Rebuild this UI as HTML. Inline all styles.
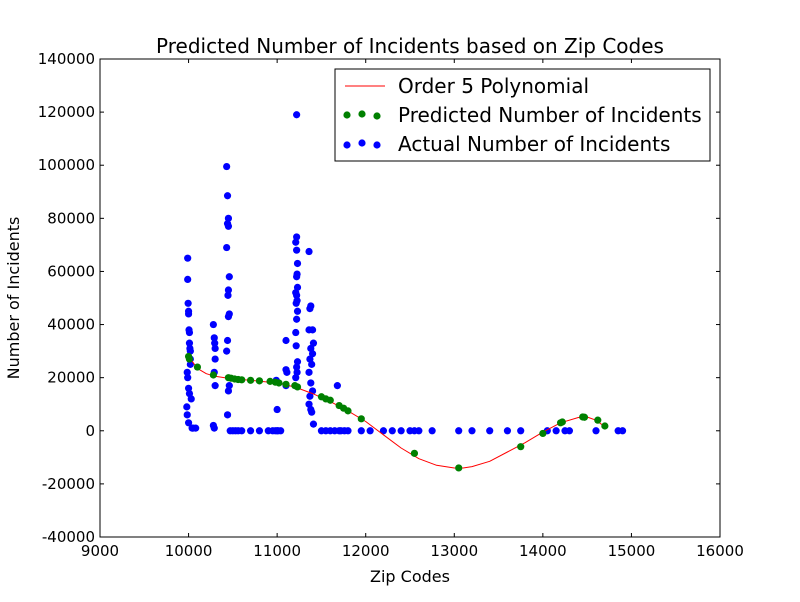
<!DOCTYPE html>
<html><head><meta charset="utf-8"><style>
body{margin:0;background:#fff;}
svg{font-family:"DejaVu Sans","Liberation Sans",sans-serif;}
</style></head><body>
<svg id="chart" width="800" height="597">
<rect x="0" y="0" width="800" height="597" fill="#fff"/>
<g id="plot"></g>
</svg>
<script>
const xTicks=[9000,10000,11000,12000,13000,14000,15000,16000];
const yTicks=[-40000,-20000,0,20000,40000,60000,80000,100000,120000,140000];
const curveX=[10000,10100,10200,10300,10500,10700,11000,11200,11400,11600,11800,12000,12200,12400,12600,12800,13000,13100,13200,13400,13600,13800,14000,14200,14400,14500,14600,14700];
const curveY=[28000,23500,21500,20500,19500,19000,18000,16500,14000,11000,7500,3500,-1500,-6500,-10500,-13000,-14000,-14000,-13500,-11500,-8000,-4500,-500,3000,5000,5200,4000,1500];
const predX=[10000,10010,10100,10280,10450,10480,10520,10560,10600,10700,10800,10920,10980,11020,11100,11200,11230,11500,11550,11600,11700,11750,11800,11950,12550,13050,13750,14000,14200,14220,14450,14470,14620,14700];
const predY=[28000,27000,24000,21000,20000,19800,19500,19300,19200,19000,18800,18600,18300,18000,17500,17000,16500,12800,12000,11500,9500,8500,7500,4500,-8500,-14000,-6000,-1000,3000,3300,5200,5100,4000,1800];
const actX=[9990,9990,9995,10000,10000,10005,10010,10010,10015,10020,10020,10020,9985,9990,10000,10010,10030,10040,9980,9985,10000,10050,10080,
10280,10290,10295,10300,10300,10290,10300,10280,10290,
10430,10440,10450,10440,10450,10430,10460,10450,10445,10460,10450,10440,10430,10460,10450,10440,10470,
10500,10530,10560,10600,10700,10800,10900,10950,10980,11000,11010,11040,11000,10990,
11100,11100,11110,11100,
11220,11220,11210,11220,11230,11225,11220,11230,11210,11220,11225,11215,11230,11220,11210,11215,11230,11220,11225,11210,
11360,11380,11370,11400,11360,11410,11380,11400,11370,11390,11360,11380,11400,11370,11360,11380,11390,11410,
11500,11550,11600,11650,11680,11700,11720,11760,11800,11950,12050,12200,12300,12400,12500,12550,12600,12750,13050,13200,13400,13600,13750,14050,14150,14250,14300,14600,14850,14900];
const actY=[65000,57000,48000,45000,44000,38000,37000,33000,31000,30000,27000,25000,22000,20000,16000,14000,12000,1000,9000,6000,3000,1000,1000,
40000,35000,33000,31000,27000,22000,17000,2000,1000,
99500,88500,80000,78000,77000,69000,58000,53000,51000,44000,43000,34000,30000,17000,15000,6000,0,
0,0,0,0,0,0,0,0,0,0,0,0,8000,19000,
34000,23000,22000,17000,
119000,73000,71000,68000,63000,59000,58000,54000,52000,51000,49000,48000,45000,42000,37000,32000,26000,24000,22000,20000,
67500,47000,46000,38000,38000,33000,31000,29000,27000,25000,22000,18000,15000,13000,10000,8000,7000,2500,
0,0,0,0,17000,0,0,0,0,0,0,0,0,0,0,0,0,0,0,0,0,0,0,0,0,0,0,0,0,0];
const L=100,R=720,T=59,B=537;
const xs=v=>L+(v-9000)/7000*(R-L);
const ys=v=>B-(v+40000)/180000*(B-T);
const NS='http://www.w3.org/2000/svg';
const g=document.getElementById('plot');
function mk(t,a,p){const e=document.createElementNS(NS,t);for(const k in a)e.setAttribute(k,a[k]);(p||g).appendChild(e);return e;}
const fr=mk('rect',{x:L,y:T,width:R-L,height:B-T,fill:'none',stroke:'#000','stroke-width':1});


xTicks.forEach(v=>{const x=xs(v);
mk('line',{x1:x,x2:x,y1:B,y2:B-4,stroke:'#000'});mk('line',{x1:x,x2:x,y1:T,y2:T+4,stroke:'#000'});
const t=mk('text',{x:x,y:B+19,'text-anchor':'middle','font-size':15});t.textContent=v;

});
yTicks.forEach(v=>{const y=ys(v);
mk('line',{x1:L,x2:L+4,y1:y,y2:y,stroke:'#000'});mk('line',{x1:R,x2:R-4,y1:y,y2:y,stroke:'#000'});
const t=mk('text',{x:L-5,y:y+5,'text-anchor':'end','font-size':15});t.textContent=v;

});
actX.forEach((v,i)=>{const c=mk('circle',{cx:xs(v),cy:ys(actY[i]),r:3.6,fill:'#0000ff'});

});
let d='';curveX.forEach((v,i)=>{d+=(i?'L':'M')+xs(v).toFixed(1)+','+ys(curveY[i]).toFixed(1);});
const pl=mk('path',{d:d,fill:'none',stroke:'#ff0000','stroke-width':1,'stroke-linejoin':'round'});


predX.forEach((v,i)=>{const c=mk('circle',{cx:xs(v),cy:ys(predY[i]),r:3.6,fill:'#008000'});

});
</script>
<svg width="800" height="597" style="position:absolute;left:0;top:0;font-family:'DejaVu Sans','Liberation Sans',sans-serif">
<text x="410" y="53" text-anchor="middle" font-size="20">Predicted Number of Incidents based on Zip Codes</text>
<text x="410" y="582" text-anchor="middle" font-size="16">Zip Codes</text>
<text x="0" y="0" transform="translate(19,298) rotate(-90)" text-anchor="middle" font-size="16">Number of Incidents</text>
<g>
<rect x="335" y="69" width="375" height="92" fill="#fff" stroke="#000"/>
<line x1="345" x2="385" y1="86" y2="86" stroke="#ff0000"/>
<text x="398" y="93" font-size="20">Order 5 Polynomial</text>
<circle cx="347" cy="115" r="3.6" fill="#008000"/><circle cx="362" cy="114" r="3.6" fill="#008000"/><circle cx="377" cy="116" r="3.6" fill="#008000"/>
<text x="398" y="122" font-size="20">Predicted Number of Incidents</text>
<circle cx="347" cy="145" r="3.6" fill="#0000ff"/><circle cx="362" cy="143" r="3.6" fill="#0000ff"/><circle cx="377" cy="145" r="3.6" fill="#0000ff"/>
<text x="398" y="151" font-size="20">Actual Number of Incidents</text>
</g>
</svg>
</body></html>
